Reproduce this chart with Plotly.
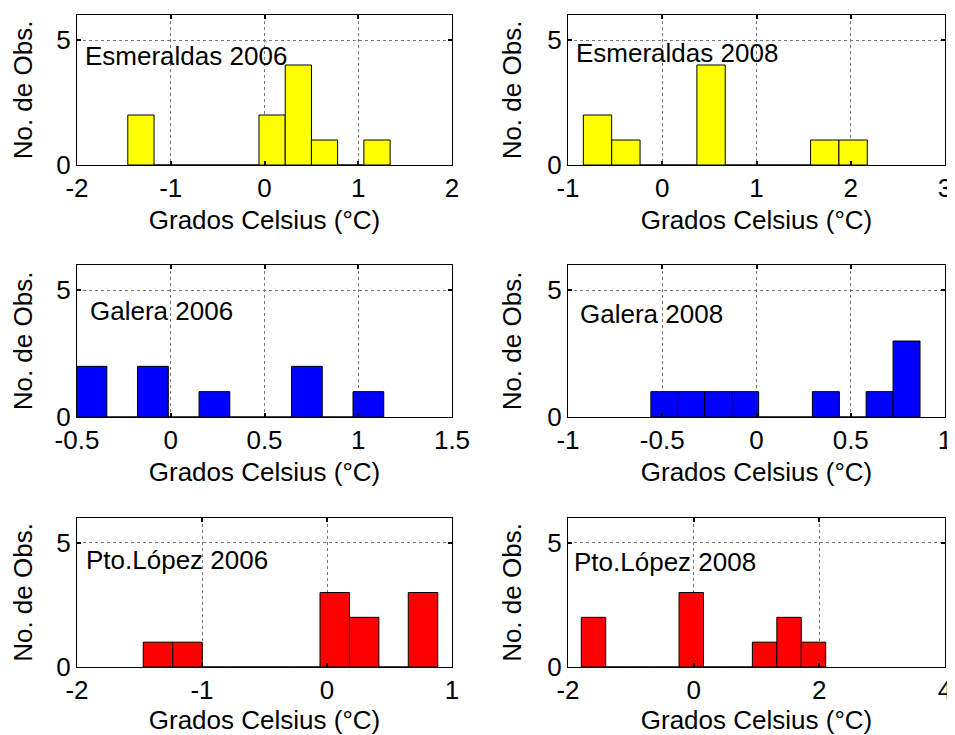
import plotly.graph_objects as go

# ---- data (bin centers, counts) ----
esm2006_centers = [-1.318, -1.038, -0.758, -0.479, -0.199, 0.081, 0.361, 0.640, 0.920, 1.200]
esm2006_counts = [2, 0, 0, 0, 0, 2, 4, 1, 0, 1]
esm2008_centers = [-0.687, -0.386, -0.084, 0.217, 0.518, 0.820, 1.121, 1.423, 1.724, 2.025]
esm2008_counts = [2, 1, 0, 0, 4, 0, 0, 0, 1, 1]
gal2006_centers = [-0.423, -0.259, -0.095, 0.069, 0.233, 0.398, 0.562, 0.726, 0.890, 1.054]
gal2006_counts = [2, 0, 2, 0, 1, 0, 0, 2, 0, 1]
gal2008_centers = [-0.489, -0.346, -0.203, -0.060, 0.083, 0.225, 0.368, 0.511, 0.653, 0.796]
gal2008_counts = [1, 1, 1, 1, 0, 0, 1, 0, 1, 3]
lop2006_centers = [-1.352, -1.116, -0.881, -0.645, -0.410, -0.174, 0.062, 0.297, 0.533, 0.768]
lop2006_counts = [1, 1, 0, 0, 0, 0, 3, 2, 0, 3]
lop2008_centers = [-1.594, -1.205, -0.816, -0.427, -0.038, 0.351, 0.740, 1.129, 1.518, 1.907]
lop2008_counts = [2, 0, 0, 0, 3, 0, 0, 1, 2, 1]

panel_titles = ["Esmeraldas 2006", "Esmeraldas 2008", "Galera 2006", "Galera 2008",
                "Pto.López 2006", "Pto.López 2008"]
x_ranges = [[-2, 2], [-1, 3], [-0.5, 1.5], [-1, 1], [-2, 1], [-2, 4]]
x_ticks = [[-2, -1, 0, 1, 2], [-1, 0, 1, 2, 3], [-0.5, 0, 0.5, 1, 1.5],
           [-1, -0.5, 0, 0.5, 1], [-2, -1, 0, 1], [-2, 0, 2, 4]]
x_ticktext = [["-2", "-1", "0", "1", "2"], ["-1", "0", "1", "2", "3"],
              ["-0.5", "0", "0.5", "1", "1.5"], ["-1", "-0.5", "0", "0.5", "1"],
              ["-2", "-1", "0", "1"], ["-2", "0", "2", "4"]]
y_ticks = [0, 5]
y_range = [0, 6]
x_title = "Grados Celsius (°C)"
y_title = "No. de Obs."
colors = ["#ffff00", "#ffff00", "#0000ff", "#0000ff", "#ff0000", "#ff0000"]

centers = [esm2006_centers, esm2008_centers, gal2006_centers, gal2008_centers,
           lop2006_centers, lop2008_centers]
counts = [esm2006_counts, esm2008_counts, gal2006_counts, gal2008_counts,
          lop2006_counts, lop2008_counts]

# ---- layout geometry (page body has an 8px margin) ----
OFF = 8
W, H = 955 - OFF, 735 - OFF
col_px = [(77 - OFF, 452 - OFF), (568 - OFF, 945 - OFF)]
row_px = [(15 - OFF, 165 - OFF), (265 - OFF, 417 - OFF), (518 - OFF, 667 - OFF)]
label_pos = [(0.016, 0.727), (0.017, 0.749), (0.030, 0.70), (0.026, 0.68), (0.019, 0.718), (0.011, 0.707)]

FONT = "Liberation Sans, Arial, sans-serif"
FS = 26
fig = go.Figure()
layout = dict(width=W, height=H, margin=dict(l=0, r=0, t=0, b=0, autoexpand=False),
              paper_bgcolor="white", plot_bgcolor="white", showlegend=False,
              font=dict(family=FONT, size=FS, color="black"), annotations=[])

for i in range(6):
    r, c = divmod(i, 2)
    xa = "x" if i == 0 else f"x{i+1}"
    ya = "y" if i == 0 else f"y{i+1}"
    width = centers[i][1] - centers[i][0]
    fig.add_trace(go.Bar(x=centers[i], y=counts[i], width=width,
                         marker=dict(color=colors[i], line=dict(color="black", width=1)),
                         xaxis=xa, yaxis=ya, hoverinfo="x+y"))
    x0, x1 = col_px[c]
    y0, y1 = row_px[r]
    common = dict(showline=True, linecolor="black", linewidth=1, mirror="allticks",
                  ticks="inside", ticklen=4, tickwidth=2, tickcolor="black",
                  showgrid=True, gridcolor="#777777", griddash="dot", gridwidth=1,
                  zeroline=False, automargin=False,
                  tickfont=dict(size=FS, family=FONT, color="black"))
    layout["xaxis" if i == 0 else f"xaxis{i+1}"] = dict(
        domain=[x0 / W, x1 / W], range=x_ranges[i], anchor=ya,
        tickmode="array", tickvals=x_ticks[i], ticktext=x_ticktext[i],
        title=dict(text=x_title, font=dict(size=FS, family=FONT), standoff=8), **common)
    layout["yaxis" if i == 0 else f"yaxis{i+1}"] = dict(
        domain=[1 - y1 / H, 1 - y0 / H], range=y_range, anchor=xa,
        tickmode="array", tickvals=y_ticks, ticktext=[str(v) for v in y_ticks],
        title=dict(text=y_title, font=dict(size=FS, family=FONT), standoff=18), **common)
    lx, ly = label_pos[i]
    layout["annotations"].append(dict(
        text=panel_titles[i], xref=f"{xa} domain", yref=f"{ya} domain",
        x=lx, y=ly, xanchor="left", yanchor="middle", showarrow=False,
        font=dict(size=FS, family=FONT, color="black")))

fig.update_layout(**layout)
fig.write_html("out.html")
